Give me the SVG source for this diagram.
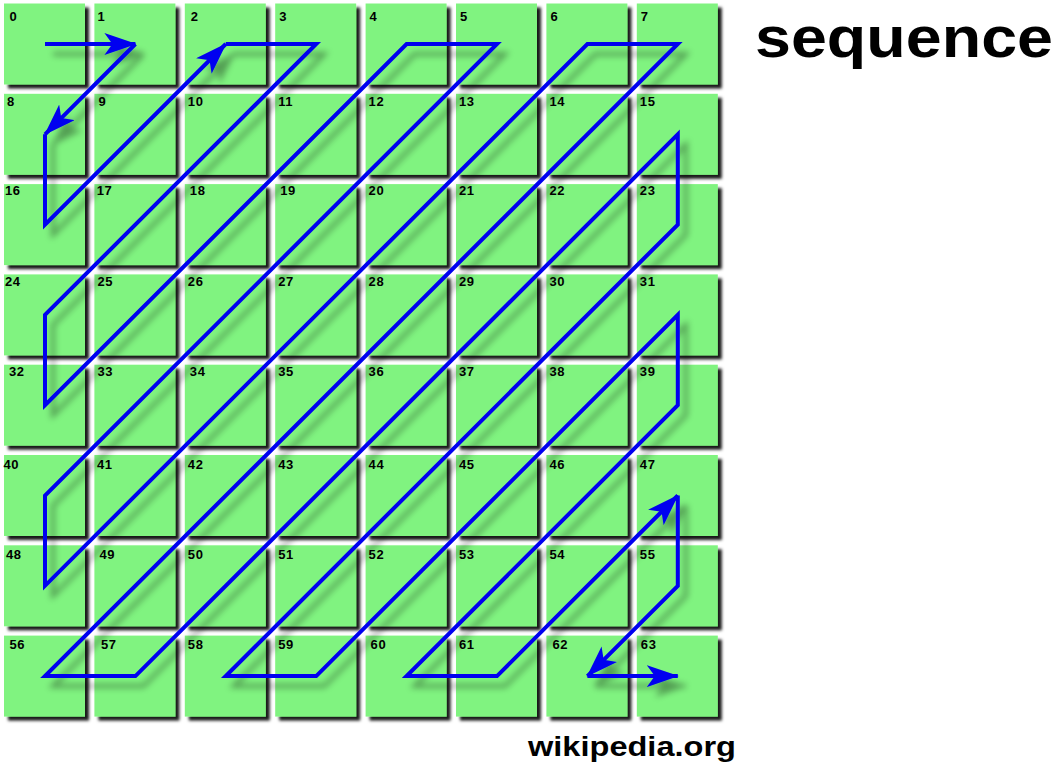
<svg xmlns="http://www.w3.org/2000/svg" width="1056" height="764" viewBox="0 0 1056 764">
<style>
.cell{fill:#80f380;filter:url(#cs)}
.lbl{font-family:"Liberation Sans",Arial,sans-serif;font-weight:bold;font-size:13px;letter-spacing:0.6px;fill:#000}
.ln{fill:none;stroke:#0000f0;stroke-width:4;stroke-linejoin:miter}
.arr{marker-end:url(#ah)}
.title{font-family:"Liberation Sans",Arial,sans-serif;font-weight:bold;fill:#000}
</style>
<defs>
<filter id="cs" x="-10%" y="-10%" width="130%" height="130%">
<feDropShadow dx="4" dy="4" stdDeviation="1.8" flood-color="#000" flood-opacity="0.9"/>
</filter>
<filter id="ls" x="-10%" y="-10%" width="130%" height="130%">
<feGaussianBlur in="SourceAlpha" stdDeviation="3" result="b"/>
<feOffset in="b" dx="8" dy="10" result="o"/>
<feComponentTransfer in="o" result="s"><feFuncA type="linear" slope="0.35"/></feComponentTransfer>
<feMerge><feMergeNode in="s"/><feMergeNode in="SourceGraphic"/></feMerge>
</filter>
<marker id="ah" viewBox="0 0 32 22" refX="31" refY="11" markerWidth="32" markerHeight="22" markerUnits="userSpaceOnUse" orient="auto">
<path d="M0,0 L32,11 L0,22 L8,11 Z" fill="#0000f0"/>
</marker>
</defs>
<rect width="1056" height="764" fill="#fff"/>
<g id="cells">
<g id="c0"><rect class="cell" x="4" y="3.5" width="81" height="81"/><text class="lbl" x="9.5" y="20.5">0</text></g>
<g id="c1"><rect class="cell" x="94.4" y="3.5" width="81" height="81"/><text class="lbl" x="97.5" y="20.5">1</text></g>
<g id="c2"><rect class="cell" x="184.8" y="3.5" width="81" height="81"/><text class="lbl" x="190.8" y="20.5">2</text></g>
<g id="c3"><rect class="cell" x="275.2" y="3.5" width="81" height="81"/><text class="lbl" x="279.2" y="20.5">3</text></g>
<g id="c4"><rect class="cell" x="365.6" y="3.5" width="81" height="81"/><text class="lbl" x="369.6" y="20.5">4</text></g>
<g id="c5"><rect class="cell" x="456" y="3.5" width="81" height="81"/><text class="lbl" x="460" y="20.5">5</text></g>
<g id="c6"><rect class="cell" x="546.4" y="3.5" width="81" height="81"/><text class="lbl" x="550.4" y="20.5">6</text></g>
<g id="c7"><rect class="cell" x="636.8" y="3.5" width="81" height="81"/><text class="lbl" x="640.8" y="20.5">7</text></g>
<g id="c8"><rect class="cell" x="4" y="93.8" width="81" height="81"/><text class="lbl" x="7" y="106">8</text></g>
<g id="c9"><rect class="cell" x="94.4" y="93.8" width="81" height="81"/><text class="lbl" x="98.4" y="106">9</text></g>
<g id="c10"><rect class="cell" x="184.8" y="93.8" width="81" height="81"/><text class="lbl" x="187.8" y="106">10</text></g>
<g id="c11"><rect class="cell" x="275.2" y="93.8" width="81" height="81"/><text class="lbl" x="278.2" y="106">11</text></g>
<g id="c12"><rect class="cell" x="365.6" y="93.8" width="81" height="81"/><text class="lbl" x="368.6" y="106">12</text></g>
<g id="c13"><rect class="cell" x="456" y="93.8" width="81" height="81"/><text class="lbl" x="459" y="106">13</text></g>
<g id="c14"><rect class="cell" x="546.4" y="93.8" width="81" height="81"/><text class="lbl" x="549.4" y="106">14</text></g>
<g id="c15"><rect class="cell" x="636.8" y="93.8" width="81" height="81"/><text class="lbl" x="639.8" y="106">15</text></g>
<g id="c16"><rect class="cell" x="4" y="184.1" width="81" height="81"/><text class="lbl" x="5" y="195">16</text></g>
<g id="c17"><rect class="cell" x="94.4" y="184.1" width="81" height="81"/><text class="lbl" x="96.7" y="195">17</text></g>
<g id="c18"><rect class="cell" x="184.8" y="184.1" width="81" height="81"/><text class="lbl" x="189.8" y="195">18</text></g>
<g id="c19"><rect class="cell" x="275.2" y="184.1" width="81" height="81"/><text class="lbl" x="280.2" y="195">19</text></g>
<g id="c20"><rect class="cell" x="365.6" y="184.1" width="81" height="81"/><text class="lbl" x="368.6" y="195">20</text></g>
<g id="c21"><rect class="cell" x="456" y="184.1" width="81" height="81"/><text class="lbl" x="459" y="195">21</text></g>
<g id="c22"><rect class="cell" x="546.4" y="184.1" width="81" height="81"/><text class="lbl" x="549.4" y="195">22</text></g>
<g id="c23"><rect class="cell" x="636.8" y="184.1" width="81" height="81"/><text class="lbl" x="639.8" y="195">23</text></g>
<g id="c24"><rect class="cell" x="4" y="274.4" width="81" height="81"/><text class="lbl" x="5" y="285.7">24</text></g>
<g id="c25"><rect class="cell" x="94.4" y="274.4" width="81" height="81"/><text class="lbl" x="97.4" y="285.7">25</text></g>
<g id="c26"><rect class="cell" x="184.8" y="274.4" width="81" height="81"/><text class="lbl" x="187.8" y="285.7">26</text></g>
<g id="c27"><rect class="cell" x="275.2" y="274.4" width="81" height="81"/><text class="lbl" x="278.2" y="285.7">27</text></g>
<g id="c28"><rect class="cell" x="365.6" y="274.4" width="81" height="81"/><text class="lbl" x="368.6" y="285.7">28</text></g>
<g id="c29"><rect class="cell" x="456" y="274.4" width="81" height="81"/><text class="lbl" x="459" y="285.7">29</text></g>
<g id="c30"><rect class="cell" x="546.4" y="274.4" width="81" height="81"/><text class="lbl" x="549.4" y="285.7">30</text></g>
<g id="c31"><rect class="cell" x="636.8" y="274.4" width="81" height="81"/><text class="lbl" x="639.8" y="285.7">31</text></g>
<g id="c32"><rect class="cell" x="4" y="364.7" width="81" height="81"/><text class="lbl" x="9" y="376">32</text></g>
<g id="c33"><rect class="cell" x="94.4" y="364.7" width="81" height="81"/><text class="lbl" x="97.4" y="376">33</text></g>
<g id="c34"><rect class="cell" x="184.8" y="364.7" width="81" height="81"/><text class="lbl" x="189.8" y="376">34</text></g>
<g id="c35"><rect class="cell" x="275.2" y="364.7" width="81" height="81"/><text class="lbl" x="278.2" y="376">35</text></g>
<g id="c36"><rect class="cell" x="365.6" y="364.7" width="81" height="81"/><text class="lbl" x="368.6" y="376">36</text></g>
<g id="c37"><rect class="cell" x="456" y="364.7" width="81" height="81"/><text class="lbl" x="459" y="376">37</text></g>
<g id="c38"><rect class="cell" x="546.4" y="364.7" width="81" height="81"/><text class="lbl" x="549.4" y="376">38</text></g>
<g id="c39"><rect class="cell" x="636.8" y="364.7" width="81" height="81"/><text class="lbl" x="639.8" y="376">39</text></g>
<g id="c40"><rect class="cell" x="4" y="455" width="81" height="81"/><text class="lbl" x="3.5" y="469">40</text></g>
<g id="c41"><rect class="cell" x="94.4" y="455" width="81" height="81"/><text class="lbl" x="97" y="469">41</text></g>
<g id="c42"><rect class="cell" x="184.8" y="455" width="81" height="81"/><text class="lbl" x="187.8" y="469">42</text></g>
<g id="c43"><rect class="cell" x="275.2" y="455" width="81" height="81"/><text class="lbl" x="278.2" y="469">43</text></g>
<g id="c44"><rect class="cell" x="365.6" y="455" width="81" height="81"/><text class="lbl" x="368.6" y="469">44</text></g>
<g id="c45"><rect class="cell" x="456" y="455" width="81" height="81"/><text class="lbl" x="459" y="469">45</text></g>
<g id="c46"><rect class="cell" x="546.4" y="455" width="81" height="81"/><text class="lbl" x="549.4" y="469">46</text></g>
<g id="c47"><rect class="cell" x="636.8" y="455" width="81" height="81"/><text class="lbl" x="639.8" y="469">47</text></g>
<g id="c48"><rect class="cell" x="4" y="545.3" width="81" height="81"/><text class="lbl" x="6" y="559">48</text></g>
<g id="c49"><rect class="cell" x="94.4" y="545.3" width="81" height="81"/><text class="lbl" x="99.4" y="559">49</text></g>
<g id="c50"><rect class="cell" x="184.8" y="545.3" width="81" height="81"/><text class="lbl" x="187.8" y="559">50</text></g>
<g id="c51"><rect class="cell" x="275.2" y="545.3" width="81" height="81"/><text class="lbl" x="278.2" y="559">51</text></g>
<g id="c52"><rect class="cell" x="365.6" y="545.3" width="81" height="81"/><text class="lbl" x="368.6" y="559">52</text></g>
<g id="c53"><rect class="cell" x="456" y="545.3" width="81" height="81"/><text class="lbl" x="459" y="559">53</text></g>
<g id="c54"><rect class="cell" x="546.4" y="545.3" width="81" height="81"/><text class="lbl" x="549.4" y="559">54</text></g>
<g id="c55"><rect class="cell" x="636.8" y="545.3" width="81" height="81"/><text class="lbl" x="639.8" y="559">55</text></g>
<g id="c56"><rect class="cell" x="4" y="635.6" width="81" height="81"/><text class="lbl" x="9.5" y="648.5">56</text></g>
<g id="c57"><rect class="cell" x="94.4" y="635.6" width="81" height="81"/><text class="lbl" x="101" y="648.5">57</text></g>
<g id="c58"><rect class="cell" x="184.8" y="635.6" width="81" height="81"/><text class="lbl" x="187.8" y="648.5">58</text></g>
<g id="c59"><rect class="cell" x="275.2" y="635.6" width="81" height="81"/><text class="lbl" x="278.2" y="648.5">59</text></g>
<g id="c60"><rect class="cell" x="365.6" y="635.6" width="81" height="81"/><text class="lbl" x="370.6" y="648.5">60</text></g>
<g id="c61"><rect class="cell" x="456" y="635.6" width="81" height="81"/><text class="lbl" x="459" y="648.5">61</text></g>
<g id="c62"><rect class="cell" x="546.4" y="635.6" width="81" height="81"/><text class="lbl" x="552.4" y="648.5">62</text></g>
<g id="c63"><rect class="cell" x="636.8" y="635.6" width="81" height="81"/><text class="lbl" x="640.8" y="648.5">63</text></g>
</g>
<g id="connectors" filter="url(#ls)">
<path class="ln arr" d="M45,44 L135.4,44"/>
<path class="ln arr" d="M135.4,44 L45,134.3"/>
<path class="ln arr" d="M45,134.3 L45,224.6 L225.8,44"/>
<path class="ln arr" d="M225.8,44 L316.2,44 L45,314.9 L45,405.2 L406.6,44 L497,44 L45,495.5 L45,585.8 L587.4,44 L677.8,44 L45,676.1 L135.4,676.1 L677.8,134.3 L677.8,224.6 L225.8,676.1 L316.2,676.1 L677.8,314.9 L677.8,405.2 L406.6,676.1 L497,676.1 L677.8,495.5"/>
<path class="ln arr" d="M677.8,495.5 L677.8,585.8 L587.4,676.1"/>
<path class="ln arr" d="M587.4,676.1 L677.8,676.1"/>
</g>
<g id="labels">
<text class="title" x="755" y="57" font-size="58" textLength="298" lengthAdjust="spacingAndGlyphs">sequence</text>
<text class="title" x="528" y="756" font-size="28" textLength="208" lengthAdjust="spacingAndGlyphs">wikipedia.org</text>
</g>
</svg>
